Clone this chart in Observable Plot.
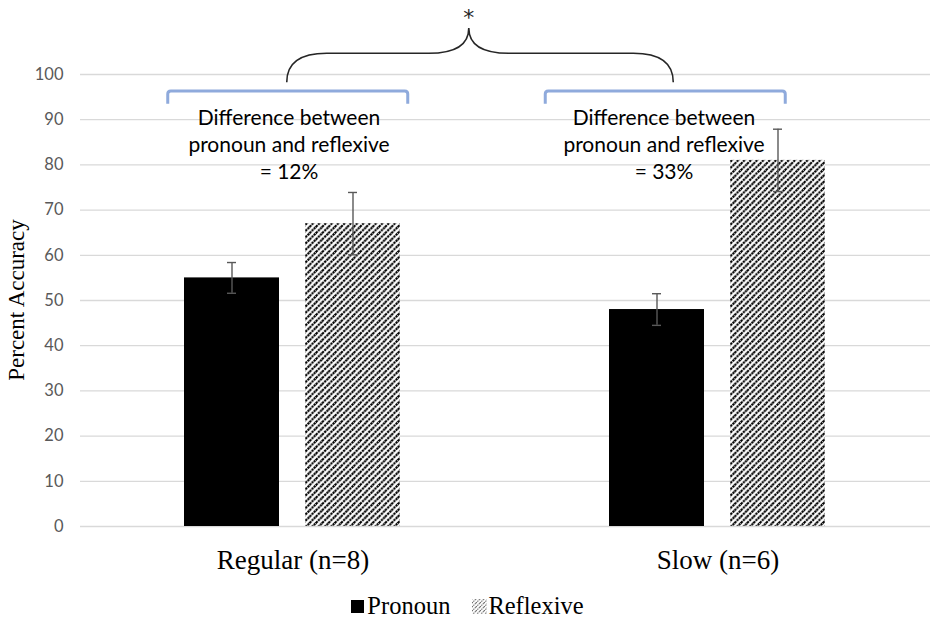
<!DOCTYPE html>
<html>
<head>
<meta charset="utf-8">
<script src="https://cdn.jsdelivr.net/npm/d3@7"></script>
<script src="https://cdn.jsdelivr.net/npm/@observablehq/plot@0.6"></script>
<style>
  body { margin: 0; background: #fff; }
  #chart svg { display: block; }
  #legend { height: 36px; box-sizing: border-box; padding-top: 5px; display: flex; justify-content: center; align-items: center;
            font-family: "Liberation Serif", serif; font-size: 24.5px; color: #000; }
  #legend .item { display: flex; align-items: center; }
</style>
</head>
<body>
<div id="chart"></div>
<div id="legend"></div>
<script>
// ---- data ----
const groups = ["Regular (n=8)", "Slow (n=6)"];
const series = ["Pronoun", "Reflexive"];
const pronounValues = [55, 48];
const reflexiveValues = [67, 81];
const pronounErrors = [3.4, 3.5];
const reflexiveErrors = [6.9, 6.9];
const yTicks = [0, 10, 20, 30, 40, 50, 60, 70, 80, 90, 100];
const diffLabels = ["= 12%", "= 33%"];
const significanceLabel = "*";
const yLabel = "Percent Accuracy";

// ---- tables built from the arrays ----
const rows = groups.flatMap((g, i) => [
  {group: g, series: series[0], value: pronounValues[i], err: pronounErrors[i]},
  {group: g, series: series[1], value: reflexiveValues[i], err: reflexiveErrors[i]}
]);
rows.forEach(d => { d.lo = d.value - d.err; d.hi = d.value + d.err; });
const notes = groups.map((g, i) => ({group: g, label: "Difference between\npronoun and reflexive\n" + diffLabels[i]}));

const errStyle = {stroke: "#595959", strokeWidth: 1.4};

const chart = Plot.plot({
  width: 935,
  height: 585,
  marginLeft: 79,
  marginRight: 5,
  marginTop: 74,
  marginBottom: 59,
  style: {fontFamily: "Lato, sans-serif", fontSize: "16px", background: "white", overflow: "visible"},
  fx: {domain: groups, paddingInner: 0, paddingOuter: 0, label: null, axis: "bottom", tickSize: 0, tickPadding: 23},
  x: {domain: series, paddingInner: 0.213, paddingOuter: 0.852, axis: null},
  y: {domain: [0, 100], ticks: yTicks, tickSize: 0, tickPadding: 17, label: null},
  marks: [
    Plot.gridY(yTicks, {stroke: "#d9d9d9", strokeOpacity: 1, strokeWidth: 1.3}),
    Plot.barY(rows.filter(d => d.series === series[0]), {fx: "group", x: "series", y: "value", fill: "black"}),
    Plot.barY(rows.filter(d => d.series === series[1]), {fx: "group", x: "series", y: "value", fill: "url(#hatch)"}),
    Plot.ruleX(rows, {fx: "group", x: "series", y1: "lo", y2: "hi", ...errStyle}),
    Plot.tickY(rows, {fx: "group", x: "series", y: "lo", insetLeft: 43, insetRight: 43, ...errStyle}),
    Plot.tickY(rows, {fx: "group", x: "series", y: "hi", insetLeft: 43, insetRight: 43, ...errStyle}),
    Plot.text(notes.slice(0, 1), {fx: "group", y: 84.8, text: "label", dx: -4, lineHeight: 1.3, fontSize: 21, fill: "#000", fontFamily: "Lato, sans-serif"}),
    Plot.text(notes.slice(1, 2), {fx: "group", y: 84.8, text: "label", dx: -54, lineHeight: 1.3, fontSize: 21, fill: "#000", fontFamily: "Lato, sans-serif"})
  ]
});
document.getElementById("chart").appendChild(chart);

const svg = d3.select(chart);

// ---- axis text styling ----
svg.selectAll('g[aria-label^="y-axis"]').attr("fill", "#595959").attr("font-size", 16.5);
svg.selectAll('g[aria-label^="y-axis"] text').attr("fill", "#595959").style("font-size", "16.5px").style("font-family", "Lato, sans-serif");
svg.selectAll('g[aria-label^="fx-axis"]').attr("font-size", 27).attr("font-family", "Liberation Serif, serif").attr("fill", "#000");
svg.selectAll('g[aria-label^="fx-axis"] text').style("font-size", "27px").style("font-family", "Liberation Serif, serif").attr("fill", "#000");

// ---- hatch pattern ----
const defs = svg.insert("defs", ":first-child");
function addHatch(defs, id, size, sw, dash, color) {
  const p = defs.append("pattern").attr("id", id).attr("patternUnits", "userSpaceOnUse")
    .attr("width", size).attr("height", size);
  p.append("rect").attr("width", size).attr("height", size).attr("fill", "white");
  const segs = [[0, size, size, 0], [-size / 2, size / 2, size / 2, -size / 2], [size / 2, size * 1.5, size * 1.5, size / 2]];
  segs.forEach(([x1, y1, x2, y2]) => p.append("line").attr("x1", x1).attr("y1", y1).attr("x2", x2).attr("y2", y2)
    .attr("stroke", color).attr("stroke-width", sw).attr("stroke-dasharray", dash));
}
addHatch(defs, "hatch", 6.3, 2.1, "2.2 0.77", "black");

// ---- scales from the chart ----
const ys = chart.scale("y"), fxs = chart.scale("fx");
const y = d3.scaleLinear().domain(ys.domain).range(ys.range);
const fx = d3.scaleBand().domain(fxs.domain).range(fxs.range).paddingInner(0).paddingOuter(0);
const centers = groups.map(g => fx(g) + fx.bandwidth() / 2);

// ---- y axis title ----
svg.append("text")
  .attr("transform", `translate(16,${(y(0) + y(100)) / 2}) rotate(-90)`)
  .attr("text-anchor", "middle").attr("dominant-baseline", "central")
  .attr("font-family", "Liberation Serif, serif").attr("font-size", 23).attr("fill", "#000")
  .text(yLabel);

// ---- annotations (brackets, brace, asterisk) ----
const bracketSpans = [[-124, 116], [-172, 68]];   // pixel offsets from each group centre
const bracketLevels = {top: 96.24, end: 93.4};
const braceLevels = {end: 98.2, mid: 104.6, tip: 110.2, star: 110.8};

const ann = svg.append("g").attr("aria-label", "annotations").attr("fill", "none");
bracketSpans.forEach(([a, b], i) => {
  const x1 = centers[i] + a, x2 = centers[i] + b, yt = y(bracketLevels.top), yb = y(bracketLevels.end), r = 3;
  ann.append("path")
    .attr("d", `M${x1},${yb} L${x1},${yt + r} Q${x1},${yt} ${x1 + r},${yt} L${x2 - r},${yt} Q${x2},${yt} ${x2},${yt + r} L${x2},${yb}`)
    .attr("stroke", "#8faadc").attr("stroke-width", 3);
});
const bm = bracketSpans.map(([a, b], i) => centers[i] + (a + b) / 2);
const xL = bm[0] - 1, xR = bm[1] + 8, xT = xL + (xR - xL) * 0.471, r = 40;
const yE = y(braceLevels.end), yM = y(braceLevels.mid), yT = y(braceLevels.tip);
ann.append("path")
  .attr("d", `M${xL},${yE} Q${xL},${yM} ${xL + r},${yM} L${xT - r},${yM} Q${xT},${yM} ${xT},${yT} Q${xT},${yM} ${xT + r},${yM} L${xR - r},${yM} Q${xR},${yM} ${xR},${yE}`)
  .attr("stroke", "#262626").attr("stroke-width", 1.6);
ann.append("text").attr("x", xT).attr("y", y(braceLevels.star)).attr("text-anchor", "middle")
  .attr("fill", "#262626").attr("font-family", "DejaVu Sans, sans-serif").attr("font-size", 22).text(significanceLabel);

// ---- legend below the chart ----
const legend = d3.select("#legend");
series.forEach((s, i) => {
  const item = legend.append("span").attr("class", "item").style("margin-left", i ? "22px" : "0");
  const sw = item.append("svg").attr("width", i ? 15 : 13).attr("height", i ? 15 : 13)
    .style("margin-right", i ? "1px" : "3px").style("position", "relative").style("top", "1px");
  if (i === 0) {
    sw.append("rect").attr("width", 13).attr("height", 13).attr("fill", "black");
  } else {
    addHatch(sw.append("defs"), "hatchLegend", 4, 1.1, "1.3 0.7", "#666");
    sw.append("rect").attr("width", 15).attr("height", 15).attr("fill", "url(#hatchLegend)");
  }
  item.append("span").text(s);
});
</script>
</body>
</html>
